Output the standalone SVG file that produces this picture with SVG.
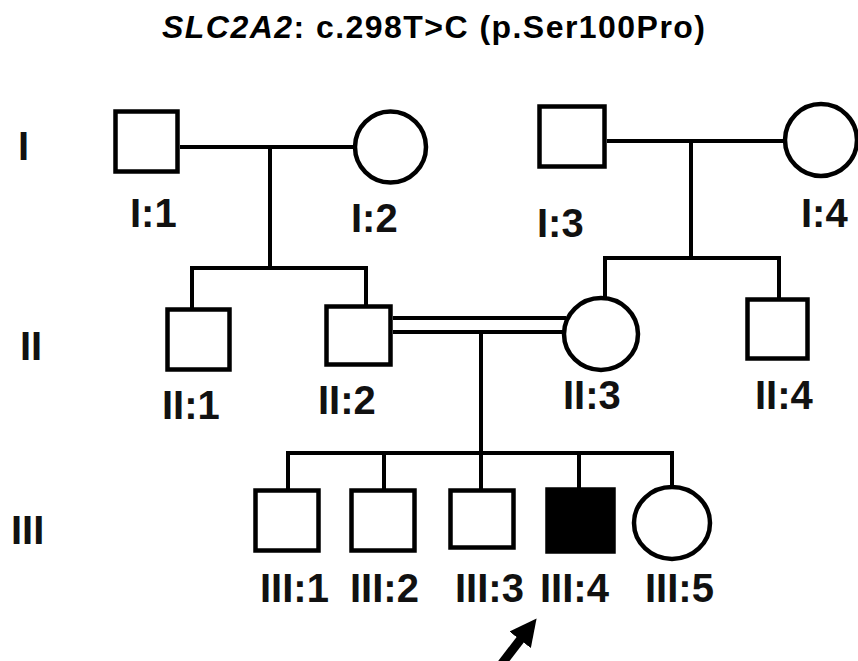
<svg xmlns="http://www.w3.org/2000/svg" width="858" height="661" viewBox="0 0 858 661">
<defs>
<style>
.sh{fill:#fff;stroke:#000;stroke-width:4.5}
.aff{fill:#000;stroke:#000;stroke-width:4.5}
.ln{fill:none;stroke:#000;stroke-width:4}
.lb{font-family:"Liberation Sans",Arial,sans-serif;font-weight:bold;font-size:40px;fill:#111}
.tt{font-family:"Liberation Sans",Arial,sans-serif;font-weight:bold;font-size:32px;fill:#000}
</style>
<marker id="ah" viewBox="0 0 10 10" refX="6" refY="5" markerWidth="3" markerHeight="3" orient="auto" markerUnits="strokeWidth">
<path d="M0,0 L10,5 L0,10 Z" fill="#000"/>
</marker>
</defs>
<rect width="858" height="661" fill="#fff"/>
<text class="tt" x="162" y="38" textLength="543" lengthAdjust="spacing"><tspan font-style="italic">SLC2A2</tspan>: c.298T&gt;C (p.Ser100Pro)</text>

<g id="generations">
<text class="lb" x="18" y="160">I</text>
<text class="lb" x="20" y="360">II</text>
<text class="lb" x="11" y="544">III</text>
</g>

<g id="connectors">
<line class="ln" x1="180" y1="147" x2="353" y2="147"/>
<line class="ln" x1="270" y1="147" x2="270" y2="268"/>
<line class="ln" x1="190" y1="268" x2="368" y2="268"/>
<line class="ln" x1="192" y1="266" x2="192" y2="309"/>
<line class="ln" x1="366" y1="266" x2="366" y2="306"/>
<line class="ln" x1="607" y1="141" x2="785" y2="141"/>
<line class="ln" x1="691" y1="141" x2="691" y2="258"/>
<line class="ln" x1="603" y1="258" x2="781" y2="258"/>
<line class="ln" x1="605" y1="256" x2="605" y2="298"/>
<line class="ln" x1="779" y1="256" x2="779" y2="299"/>
<line class="ln" x1="393" y1="318" x2="566" y2="318"/>
<line class="ln" x1="393" y1="332" x2="563" y2="332"/>
<line class="ln" x1="481" y1="332" x2="481" y2="453"/>
<line class="ln" x1="286" y1="453" x2="674" y2="453"/>
<line class="ln" x1="288" y1="451" x2="288" y2="490"/>
<line class="ln" x1="384" y1="451" x2="384" y2="490"/>
<line class="ln" x1="481" y1="451" x2="481" y2="490"/>
<line class="ln" x1="579" y1="451" x2="579" y2="489"/>
<line class="ln" x1="672" y1="451" x2="672" y2="487"/>
<line x1="500" y1="666" x2="530" y2="627" stroke="#000" stroke-width="9" marker-end="url(#ah)"/>
</g>

<g id="I-1"><rect class="sh" x="115.5" y="111.5" width="62" height="60"/><text class="lb" x="130" y="227">I:1</text></g>
<g id="I-2"><circle class="sh" cx="390.5" cy="147" r="35.5"/><text class="lb" x="351" y="232">I:2</text></g>
<g id="I-3"><rect class="sh" x="539.5" y="106.5" width="65" height="60"/><text class="lb" x="537" y="237">I:3</text></g>
<g id="I-4"><circle class="sh" cx="821" cy="140" r="36"/><text class="lb" x="801" y="227">I:4</text></g>

<g id="II-1"><rect class="sh" x="167.5" y="309.5" width="62" height="60"/><text class="lb" x="162" y="419">II:1</text></g>
<g id="II-2"><rect class="sh" x="326.5" y="306.5" width="64" height="58"/><text class="lb" x="318" y="414">II:2</text></g>
<g id="II-3"><ellipse class="sh" cx="601" cy="334" rx="37" ry="36"/><text class="lb" x="563" y="409">II:3</text></g>
<g id="II-4"><rect class="sh" x="747.5" y="299.5" width="60" height="59"/><text class="lb" x="755" y="409">II:4</text></g>

<g id="III-1"><rect class="sh" x="255.5" y="490.5" width="63" height="60"/><text class="lb" x="260" y="602">III:1</text></g>
<g id="III-2"><rect class="sh" x="351.5" y="490.5" width="63" height="60"/><text class="lb" x="350" y="602">III:2</text></g>
<g id="III-3"><rect class="sh" x="450.5" y="490.5" width="63" height="57"/><text class="lb" x="455" y="602">III:3</text></g>
<g id="III-4"><rect class="aff" x="547.5" y="489.5" width="66" height="62"/><text class="lb" x="540" y="602">III:4</text></g>
<g id="III-5"><ellipse class="sh" cx="672" cy="523" rx="38" ry="36"/><text class="lb" x="645" y="602">III:5</text></g>
</svg>
